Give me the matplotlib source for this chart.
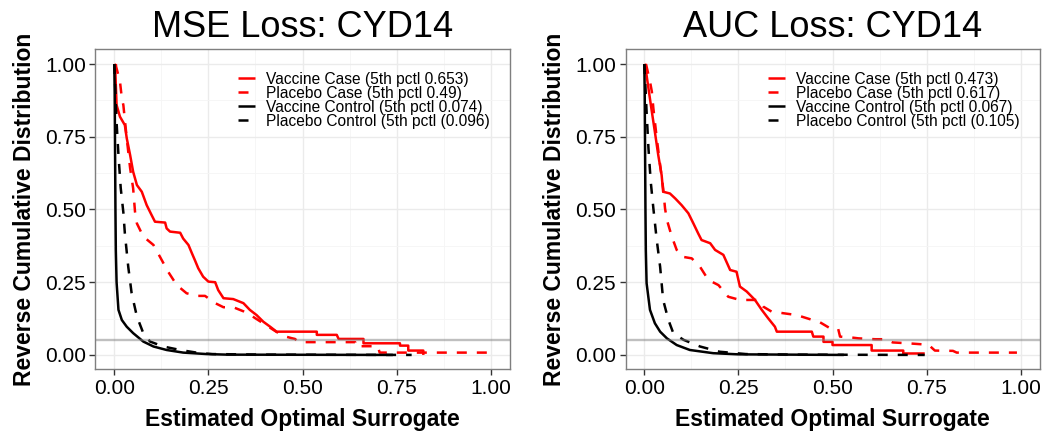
import numpy as np
import matplotlib.pyplot as plt
from matplotlib.ticker import MultipleLocator

plt.rcParams['font.family'] = ['Liberation Sans', 'DejaVu Sans']

# ---- data (x = estimated surrogate, y = reverse CDF) ----
mse_vac_case = [(0, 1.0), (0.002, 0.997), (0.006, 0.859), (0.015, 0.819), (0.028, 0.79),
                (0.033, 0.745), (0.042, 0.687), (0.05, 0.63), (0.06, 0.584), (0.073, 0.561),
                (0.086, 0.515), (0.099, 0.481), (0.108, 0.458), (0.135, 0.455), (0.139, 0.435),
                (0.148, 0.424), (0.175, 0.42), (0.183, 0.40), (0.197, 0.378), (0.206, 0.35),
                (0.214, 0.326), (0.223, 0.298), (0.236, 0.269), (0.25, 0.252), (0.268, 0.25),
                (0.276, 0.223), (0.29, 0.195), (0.316, 0.192), (0.343, 0.178), (0.36, 0.155),
                (0.378, 0.137), (0.396, 0.114), (0.414, 0.097), (0.431, 0.08), (0.538, 0.08),
                (0.538, 0.069), (0.591, 0.069), (0.596, 0.055), (0.662, 0.055), (0.662, 0.04),
                (0.759, 0.04), (0.759, 0.032), (0.781, 0.032), (0.781, 0.015), (0.821, 0.015),
                (0.821, 0.0)]
mse_pla_case = [(0.004, 1.0), (0.005, 0.99), (0.015, 0.94), (0.02, 0.882), (0.024, 0.859),
                (0.033, 0.745), (0.042, 0.642), (0.05, 0.573), (0.055, 0.492), (0.06, 0.452),
                (0.077, 0.407), (0.104, 0.378), (0.121, 0.338), (0.143, 0.286), (0.166, 0.24),
                (0.192, 0.212), (0.219, 0.203), (0.241, 0.203), (0.268, 0.178), (0.29, 0.164),
                (0.316, 0.164), (0.343, 0.15), (0.37, 0.13), (0.40, 0.105), (0.43, 0.08),
                (0.45, 0.065), (0.47, 0.058), (0.48, 0.055), (0.49, 0.044), (0.64, 0.044),
                (0.64, 0.03), (0.70, 0.03), (0.705, 0.008), (0.99, 0.008)]
mse_vac_ctrl = [(0, 1.0), (0.001, 0.9), (0.002, 0.7), (0.003, 0.5), (0.004, 0.36),
                (0.006, 0.25), (0.011, 0.155), (0.02, 0.12), (0.033, 0.097), (0.05, 0.075),
                (0.077, 0.046), (0.104, 0.029), (0.139, 0.017), (0.183, 0.008), (0.245, 0.003),
                (0.3, 0.001), (0.74, 0.0)]
mse_pla_ctrl = [(0, 1.0), (0.003, 0.9), (0.006, 0.80), (0.011, 0.687), (0.017, 0.574),
                (0.024, 0.49), (0.028, 0.418), (0.037, 0.303), (0.046, 0.212), (0.06, 0.132),
                (0.077, 0.075), (0.095, 0.046), (0.13, 0.029), (0.175, 0.017), (0.228, 0.006),
                (0.26, 0.003), (0.4, 0.001), (0.79, 0.0)]

auc_vac_case = [(0, 1.0), (0.002, 0.997), (0.011, 0.916), (0.02, 0.836), (0.028, 0.767),
                (0.037, 0.687), (0.046, 0.618), (0.05, 0.561), (0.068, 0.555), (0.082, 0.538),
                (0.099, 0.515), (0.117, 0.487), (0.13, 0.453), (0.143, 0.418), (0.152, 0.395),
                (0.175, 0.384), (0.188, 0.361), (0.21, 0.344), (0.228, 0.292), (0.245, 0.286),
                (0.254, 0.235), (0.272, 0.218), (0.294, 0.189), (0.312, 0.155), (0.329, 0.126),
                (0.347, 0.097), (0.352, 0.08), (0.445, 0.08), (0.449, 0.063), (0.476, 0.063),
                (0.476, 0.045), (0.5, 0.045), (0.5, 0.034), (0.604, 0.034), (0.604, 0.015),
                (0.688, 0.015), (0.688, 0.005), (0.745, 0.005)]
auc_pla_case = [(0.004, 1.0), (0.005, 0.997), (0.015, 0.94), (0.02, 0.905), (0.024, 0.848),
                (0.033, 0.745), (0.042, 0.653), (0.05, 0.573), (0.055, 0.504), (0.06, 0.464),
                (0.073, 0.407), (0.086, 0.361), (0.099, 0.338), (0.126, 0.332), (0.148, 0.303),
                (0.17, 0.258), (0.197, 0.24), (0.223, 0.2), (0.254, 0.189), (0.303, 0.189),
                (0.316, 0.166), (0.338, 0.149), (0.405, 0.137), (0.467, 0.112), (0.493, 0.092),
                (0.515, 0.09), (0.52, 0.063), (0.55, 0.06), (0.569, 0.057), (0.613, 0.054),
                (0.64, 0.054), (0.66, 0.043), (0.70, 0.04), (0.755, 0.035), (0.772, 0.015),
                (0.82, 0.014), (0.83, 0.008), (0.99, 0.008)]
auc_vac_ctrl = [(0, 1.0), (0.001, 0.9), (0.002, 0.7), (0.003, 0.5), (0.004, 0.36),
                (0.006, 0.247), (0.015, 0.155), (0.028, 0.109), (0.042, 0.08), (0.06, 0.057),
                (0.086, 0.034), (0.121, 0.017), (0.183, 0.006), (0.25, 0.002), (0.53, 0.0)]
auc_pla_ctrl = [(0, 1.0), (0.003, 0.92), (0.006, 0.836), (0.011, 0.71), (0.017, 0.596),
                (0.024, 0.504), (0.033, 0.395), (0.042, 0.303), (0.05, 0.189), (0.064, 0.12),
                (0.077, 0.075), (0.104, 0.052), (0.148, 0.029), (0.2, 0.011), (0.27, 0.003),
                (0.4, 0.001), (0.745, 0.0)]

mse_labels = ['Vaccine Case (5th pctl 0.653)', 'Placebo Case (5th pctl 0.49)',
              'Vaccine Control (5th pctl 0.074)', 'Placebo Control (5th pctl (0.096)']
auc_labels = ['Vaccine Case (5th pctl 0.473)', 'Placebo Case (5th pctl 0.617)',
              'Vaccine Control (5th pctl 0.067)', 'Placebo Control (5th pctl (0.105)']
titles = ['MSE Loss: CYD14', 'AUC Loss: CYD14']
cutoff = 0.05
ticks = [0.0, 0.25, 0.5, 0.75, 1.0]
tick_labels = ['0.00', '0.25', '0.50', '0.75', '1.00']

colors = ['red', 'red', 'black', 'black']
styles = ['-', '--', '-', '--']

fig = plt.figure(figsize=(10.46, 4.33), dpi=100)
lefts = [0.0913, 0.598]
panels = [(mse_vac_case, mse_pla_case, mse_vac_ctrl, mse_pla_ctrl),
          (auc_vac_case, auc_pla_case, auc_vac_ctrl, auc_pla_ctrl)]
all_labels = [mse_labels, auc_labels]

for k in range(2):
    ax = fig.add_axes([lefts[k], 0.1467, 0.3958, 0.739])
    for curve, lab, c, ls in zip(panels[k], all_labels[k], colors, styles):
        xy = np.array(curve)
        line, = ax.plot(xy[:, 0], xy[:, 1], color=c, lw=1.8, label=lab, solid_capstyle='butt')
        if ls == '--':
            line.set_dashes((4, 4))
    ax.axhline(cutoff, color='grey', alpha=0.5, lw=1.7, zorder=5)

    ax.set_xlim(-0.05, 1.05)
    ax.set_ylim(-0.05, 1.05)
    ax.set_xticks(ticks)
    ax.set_xticklabels(tick_labels)
    ax.set_yticks(ticks)
    ax.set_yticklabels(tick_labels)
    ax.xaxis.set_minor_locator(MultipleLocator(0.125))
    ax.yaxis.set_minor_locator(MultipleLocator(0.125))
    ax.grid(True, which='major', color='#ebebeb', lw=1.0, zorder=0)
    ax.grid(True, which='minor', color='#f5f5f5', lw=0.6, zorder=0)
    ax.set_axisbelow(True)
    ax.tick_params(which='major', length=4, width=1, color='#333333', labelsize=15,
                   labelcolor='black', pad=3)
    ax.tick_params(which='minor', length=0)
    for s in ax.spines.values():
        s.set_color('#7f7f7f')
        s.set_linewidth(1.0)

    ax.set_title(titles[k], fontsize=26, pad=9)
    ax.set_xlabel('Estimated Optimal Surrogate', fontsize=16.5, fontweight='bold', labelpad=7)
    ax.set_ylabel('Reverse Cumulative Distribution', fontsize=16.5, fontweight='bold', labelpad=6)

    ax.legend(loc='upper left', bbox_to_anchor=(0.345, 0.93), frameon=False, fontsize=11.2,
              handlelength=1.1, handletextpad=0.7, labelspacing=-0.07, borderpad=0,
              borderaxespad=0)

fig.savefig('out.png', dpi=100)
